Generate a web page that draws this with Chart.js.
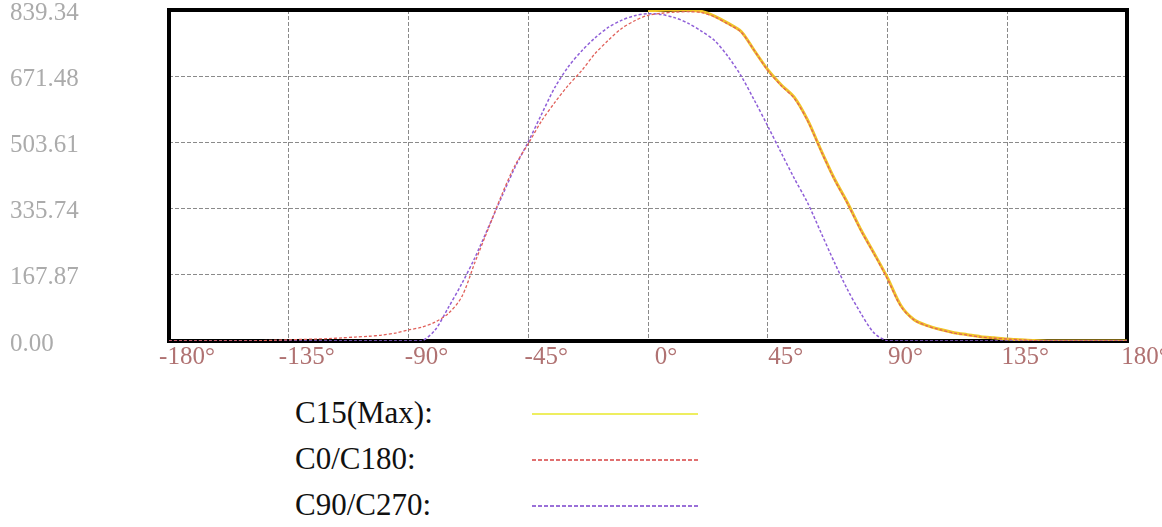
<!DOCTYPE html>
<html>
<head>
<meta charset="utf-8">
<script src="https://cdn.jsdelivr.net/npm/chart.js@4/dist/chart.umd.min.js"></script>
<style>
  body { margin: 0; background: #fff; }
  #wrap { position: relative; width: 1162px; height: 527px; }
  #box { position: absolute; left: 0; top: 0; width: 1162px; height: 380px; }
  #legend { position: absolute; left: 295px; top: 393px; font-family: "Liberation Serif", "DejaVu Serif", serif; font-size: 31px; color: #111; }
  .row { position: relative; height: 46px; line-height: 40px; }
  .row svg { position: absolute; left: 237px; top: 0; }
</style>
</head>
<body>
<div id="wrap">
  <div id="box"><canvas id="chart"></canvas></div>
  <div id="legend"></div>
</div>
<script>
// angle (degrees) of each sample
var angles = [-180,-175,-170,-165,-160,-155,-150,-145,-140,-135,-130,-125,-120,-115,-110,-105,-100,-95,-90,-85,
  -80,-75,-70,-65,-60,-55,-50,-45,-40,-35,-30,-25,-20,-15,-10,-5,0,5,10,15,20,25,30,35,40,45,50,55,60,65,70,75,
  80,85,90,95,100,105,110,115,120,125,130,135,140,145,150,155,160,165,170,175,180];

var seriesNames = ['C15(Max):', 'C0/C180:', 'C90/C270:'];

// C15 is only plotted on 0..180
var c15 = [null,null,null,null,null,null,null,null,null,null,null,null,null,null,null,null,null,null,null,null,
  null,null,null,null,null,null,null,null,null,null,null,null,null,null,null,null,
  838,839,839,839,836,824,806,785,736,688,650,618,560,484,412,350,282,222,160,90,54,39,29,21,16,11,8,5,3,1,
  0,0,0,0,0,0,0];

var c0 = [0,0,0,0,0,0,0,1,2,3,4,5,6,8,10,12,15,20,28,
  35,48,70,112,200,285,370,445,500,558,
  605,648,685,728,762,792,812,826,
  831,834,835,833,822,804,783,736,
  686,648,615,558,482,410,348,280,
  220,157,88,53,38,28,20,15,
  10,7,5,3,1,0,0,0,
  0,0,0,0];

var c90 = [0,0,0,0,0,0,0,0,0,0,0,0,0,0,0,0,0,0,0,0,
  28,85,145,212,288,365,440,505,575,643,695,735,768,795,813,825,830,
  828,820,806,786,762,722,672,610,545,478,412,350,275,200,130,70,20,0,
  0,0,0,0,0,0,0,0,0,0,0,0,0,0,0,0,0,0];

var xTicks = [-180,-135,-90,-45,0,45,90,135,180];
var yTicks = ['0.00','167.87','335.74','503.61','671.48','839.34'];

function pts(arr) {
  return angles.map(function (a, i) { return { x: a, y: arr[i] }; });
}

var frame = {
  id: 'frame',
  beforeDatasetsDraw: function (chart) {
    var a = chart.chartArea, c = chart.ctx;
    c.save();
    c.strokeStyle = '#000';
    c.lineWidth = 4;
    c.strokeRect(a.left, a.top, a.right - a.left, a.bottom - a.top);
    c.restore();
  }
};

var ctx = document.getElementById('chart');
new Chart(ctx, {
  type: 'line',
  data: {
    datasets: [
      { label: seriesNames[1], data: pts(c0), borderColor: '#e0605a', borderWidth: 1.3, borderDash: [3, 2], order: 0 },
      { label: seriesNames[2], data: pts(c90), borderColor: '#8f5fd8', borderWidth: 1.5, borderDash: [3, 2], order: 1 },
      { label: seriesNames[0], data: pts(c15), borderColor: '#f0c428', borderWidth: 3, order: 2 }
    ]
  },
  options: {
    responsive: true,
    maintainAspectRatio: false,
    animation: false,
    layout: { padding: { left: 10, top: 10, right: 35, bottom: 0 } },
    elements: { point: { radius: 0 }, line: { tension: 0.3 } },
    plugins: { legend: { display: false }, tooltip: { enabled: false } },
    scales: {
      x: {
        type: 'linear', min: -180, max: 180,
        afterBuildTicks: function (axis) { axis.ticks = xTicks.map(function (v) { return { value: v }; }); },
        afterFit: function (axis) { axis.height = 39; axis.paddingLeft = 0; axis.paddingRight = 0; },
        grid: { color: '#8a8a8a', lineWidth: 1, drawTicks: false },
        border: { display: false, dash: [4, 2] },
        ticks: {
          autoSkip: false, maxRotation: 0, padding: 1, labelOffset: 18,
          color: '#b07272',
          font: { family: '"Liberation Serif", serif', size: 25 },
          callback: function (v) { return v + '°'; }
        }
      },
      y: {
        min: 0, max: 839.34,
        afterBuildTicks: function (axis) { axis.ticks = yTicks.map(function (v) { return { value: parseFloat(v) }; }); },
        afterFit: function (axis) { axis.width = 159; axis.paddingTop = 0; axis.paddingBottom = 0; },
        grid: { color: '#8a8a8a', lineWidth: 1, drawTicks: false },
        border: { display: false, dash: [4, 2] },
        ticks: {
          crossAlign: 'far', labelOffset: 3,
          color: '#ababab',
          font: { family: '"Liberation Serif", serif', size: 25 },
          callback: function (v) { return v.toFixed(2); }
        }
      }
    }
  },
  plugins: [frame]
});

// legend below the plot
var legendStyles = [
  { color: '#eeee60', dash: '' },
  { color: '#e07070', dash: '4 2' },
  { color: '#9a70d8', dash: '4 2' }
];
var lg = document.getElementById('legend');
seriesNames.forEach(function (name, i) {
  var s = legendStyles[i];
  var row = document.createElement('div');
  row.className = 'row';
  row.innerHTML = name + '<svg width="170" height="40"><line x1="0" y1="21" x2="166" y2="21" stroke="' + s.color +
    '" stroke-width="2" stroke-dasharray="' + s.dash + '"/></svg>';
  lg.appendChild(row);
});
</script>
</body>
</html>
